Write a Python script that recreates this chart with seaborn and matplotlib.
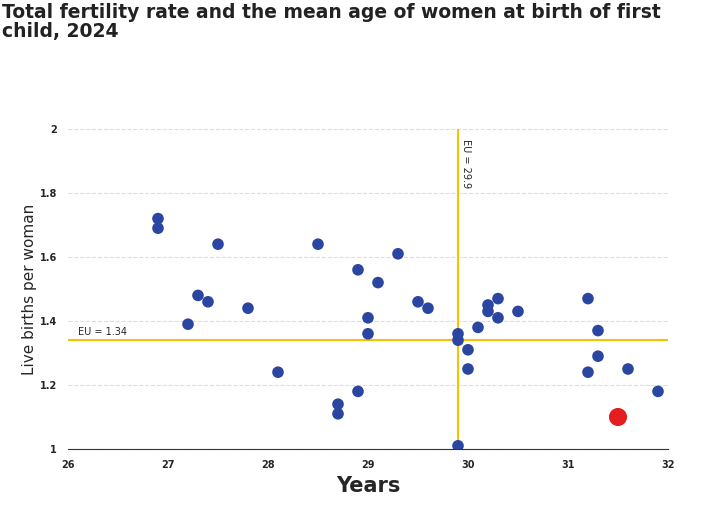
import matplotlib
matplotlib.use('Agg')
import matplotlib.pyplot as plt
import seaborn as sns
import pandas as pd

# mean age at first birth (years) and total fertility rate
ages = [26.9, 26.9, 27.2, 27.3, 27.4, 27.5, 27.8, 28.1, 28.5, 28.7, 28.7, 28.9,
        28.9, 29.0, 29.0, 29.1, 29.3, 29.5, 29.6, 29.9, 29.9, 29.9, 30.0, 30.0,
        30.1, 30.2, 30.2, 30.3, 30.3, 30.5, 31.2, 31.2, 31.3, 31.3, 31.6, 31.9]
rates = [1.72, 1.69, 1.39, 1.48, 1.46, 1.64, 1.44, 1.24, 1.64, 1.14, 1.11, 1.56,
         1.18, 1.41, 1.36, 1.52, 1.61, 1.46, 1.44, 1.36, 1.34, 1.01, 1.31, 1.25,
         1.38, 1.45, 1.43, 1.47, 1.41, 1.43, 1.47, 1.24, 1.37, 1.29, 1.25, 1.18]
hl_age = [31.5]
hl_rate = [1.10]
eu_age = 29.9
eu_rate = 1.34

df = pd.DataFrame({'age': ages, 'rate': rates})
hl = pd.DataFrame({'age': hl_age, 'rate': hl_rate})

sns.set_style('white')
fig = plt.figure(figsize=(7.09, 5.12), dpi=100)
ax = fig.add_axes([68/709, 1 - 449/512, 600/709, 320/512])

ax.axhline(eu_rate, color='#f5c400', lw=1.5, zorder=1)
ax.axvline(eu_age, color='#f5c400', lw=1.5, zorder=1)
sns.scatterplot(data=df, x='age', y='rate', color='#2a46a0', s=70, edgecolor='none', ax=ax, zorder=3)
sns.scatterplot(data=hl, x='age', y='rate', color='#e41e1e', s=170, edgecolor='none', ax=ax, zorder=4)

ax.set_xlim(26, 32)
ax.set_ylim(1, 2)
ax.set_xticks(range(26, 33))
ax.set_yticks([1, 1.2, 1.4, 1.6, 1.8, 2])
ax.set_yticklabels(['1', '1.2', '1.4', '1.6', '1.8', '2'])
ax.tick_params(labelsize=7, length=0, pad=8)
for lab in ax.get_xticklabels() + ax.get_yticklabels():
    lab.set_fontweight('bold')
ax.grid(axis='y', color='#dddddd', ls='--', lw=0.8)
for s in ['top', 'right', 'left']:
    ax.spines[s].set_visible(False)
ax.spines['bottom'].set_color('#333333')

ax.text(26.1, eu_rate + 0.01, 'EU = 1.34', fontsize=7, va='bottom')
ax.text(eu_age + 0.03, 1.97, 'EU = 29.9', fontsize=7, rotation=-90, va='top')

ax.set_xlabel('Years', fontsize=15, fontweight='bold')
ax.set_ylabel('Live births per woman', fontsize=11, labelpad=2)

fig.text(0.003, 0.995, 'Total fertility rate and the mean age of women at birth of first\nchild, 2024',
         fontsize=13.5, fontweight='bold', color='#222222', va='top', ha='left', linespacing=1.0)

fig.savefig('out.png', dpi=100)
